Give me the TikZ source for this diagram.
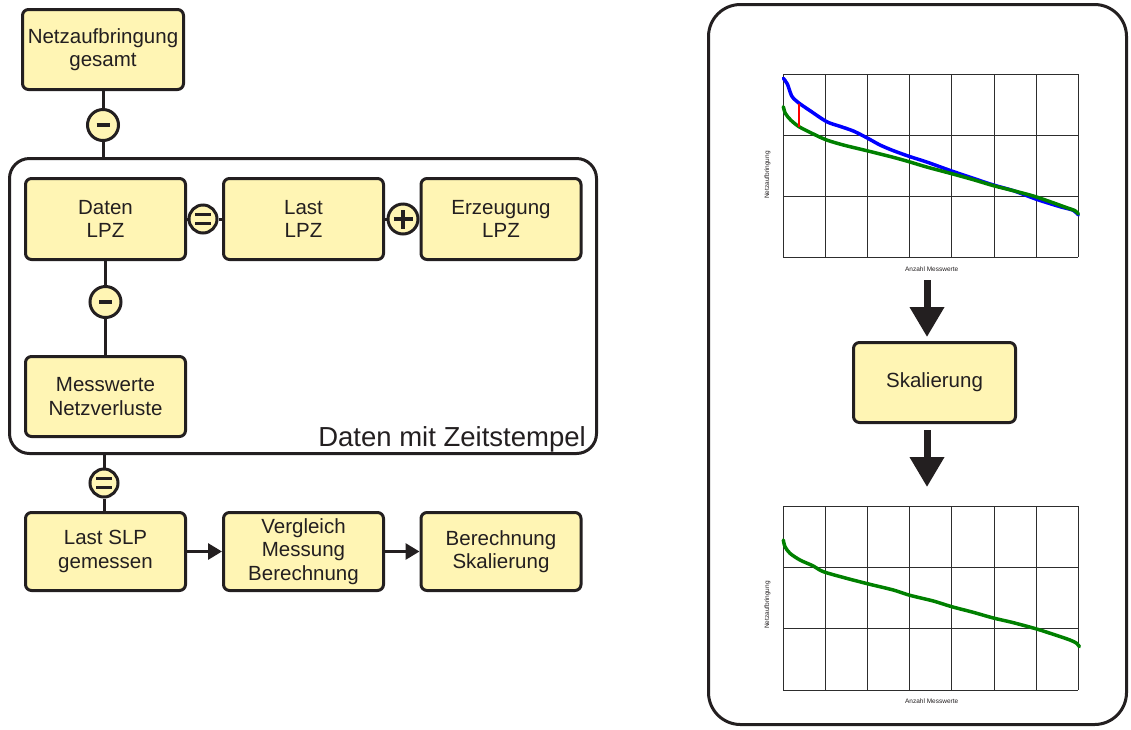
\documentclass[tikz,border=0pt]{standalone}
\usepackage{fontspec}
\setmainfont{Liberation Sans}
\usetikzlibrary{arrows.meta}
\definecolor{boxfill}{RGB}{255,245,180}
\definecolor{linec}{RGB}{35,31,32}
\definecolor{plotgreen}{RGB}{0,128,0}
\definecolor{plotblue}{RGB}{0,0,255}
\definecolor{gridc}{RGB}{45,45,45}
\begin{document}
\begin{tikzpicture}[x=1pt,y=-1pt,
  box/.style={draw=linec, fill=boxfill, line width=3pt, rounded corners=6pt, align=center, text=linec,
    font=\fontsize{20.5}{23.5}\selectfont, inner sep=0pt, minimum width=160pt, minimum height=80pt},
  op/.style={circle, draw=linec, fill=boxfill, line width=3pt, inner sep=0pt, minimum size=#1},
  conn/.style={draw=linec, line width=3pt},
  sym/.style={draw=linec, line width=3.5pt},
  smallarrow/.style={conn, -{Triangle[length=14pt,width=16pt]}},
  bigarrow/.style={draw=linec, line width=7pt, -{Triangle[length=30pt,width=33pt]}},
  gridline/.style={draw=gridc, line width=0.9pt},
  axlabel/.style={font=\fontsize{6.5}{7}\selectfont, text=linec, inner sep=0pt},
  curve/.style={line width=3.5pt, line cap=round, line join=round},
]
\useasboundingbox (0,0) rectangle (1131,729);

% ---------- left part ----------
\node[box, minimum width=161pt, minimum height=80pt] (gesamt) at (103,49.5) {Netzaufbringung\\gesamt};
\node[draw=linec, line width=3pt, rounded corners=20pt, minimum width=587pt, minimum height=295pt, inner sep=0pt] (cont) at (303,306) {};
\node[anchor=base east, font=\fontsize{27.5}{30}\selectfont, text=linec, inner sep=0pt] (zeit) at (586,446) {Daten mit Zeitstempel};

\node[box, minimum height=81pt] (daten) at (105.5,219) {Daten\\LPZ};
\node[box, minimum height=81pt] (last) at (303.5,219) {Last\\LPZ};
\node[box, minimum height=81pt] (erz) at (501,219) {Erzeugung\\LPZ};
\node[box] (mess) at (105.5,396.5) {Messwerte\\Netzverluste};

\node[box, minimum height=78pt] (slp) at (105.5,551.5) {Last SLP\\gemessen};
\node[box, minimum height=78pt] (verg) at (303.5,551.5) {Vergleich\\Messung\\Berechnung};
\node[box, minimum height=78pt] (ber) at (501,551.5) {Berechnung\\Skalierung};

% operator circles
\node[op=31pt] (m1) at (103,125) {};
\node[op=28pt] (eq1) at (203,219) {};
\node[op=30pt] (pl1) at (403,219) {};
\node[op=31pt] (m2) at (105.5,302) {};
\node[op=28pt] (eq2) at (104,483) {};

% connectors
\draw[conn] (gesamt) -- (m1);
\draw[conn] (m1) -- (m1 |- cont.north);
\draw[conn] (daten) -- (m2);
\draw[conn] (m2) -- (mess);
\draw[conn] (daten) -- (eq1);
\draw[conn] (eq1) -- (last);
\draw[conn] (last) -- (pl1);
\draw[conn] (pl1) -- (erz);
\draw[conn] (eq2 |- cont.south) -- (eq2);
\draw[conn] (eq2) -- (eq2 |- slp.north);
\draw[smallarrow] (slp) -- (verg);
\draw[smallarrow] (verg) -- (ber);

% symbols
\draw[line width=4pt, draw=linec] ([xshift=-6.5pt]m1.center) -- ([xshift=6.5pt]m1.center);
\draw[line width=4pt, draw=linec] ([xshift=-6.5pt]m2.center) -- ([xshift=6.5pt]m2.center);
\foreach \n in {eq1,eq2}{
  \draw[line width=3pt, draw=linec] ([xshift=-8pt,yshift=4.5pt]\n.center) -- ([xshift=8pt,yshift=4.5pt]\n.center);
  \draw[line width=3pt, draw=linec] ([xshift=-8pt,yshift=-4.5pt]\n.center) -- ([xshift=8pt,yshift=-4.5pt]\n.center);
}
\draw[sym] ([xshift=-9.5pt]pl1.center) -- ([xshift=9.5pt]pl1.center);
\draw[sym] ([yshift=-9.5pt]pl1.center) -- ([yshift=9.5pt]pl1.center);

% ---------- right part ----------
\node[draw=linec, line width=3pt, rounded corners=32pt, minimum width=418pt, minimum height=720pt, inner sep=0pt] (panel) at (917.5,364.5) {};

% chart 1
\begin{scope}[shift={(760,60)}, x=0.33333pt, y=-0.33333pt]
  \foreach \gx in {70,196.43,322.86,449.29,575.71,702.14,828.57,955}{
    \draw[gridline] (\gx,42) -- (\gx,592);
  }
  \foreach \gy in {42,225.33,408.67,592}{
    \draw[gridline] (70,\gy) -- (955,\gy);
  }
  \node[axlabel, rotate=90] (yl1) at (22,345) {Netzaufbringung};
  \node[axlabel] (xl1) at (515,628) {Anzahl Messwerte};
  \draw[curve, plotblue] plot[smooth, tension=0.5] coordinates {(70,55) (82,72) (95,108) (108,122) (122,133) (150,152) (200,185) (240,199) (280,213) (320,233) (360,255) (400,272) (450,290) (500,306) (575,333) (640,355) (700,375) (760,392) (830,418) (900,440) (940,451) (955,465)};
  \draw[curve, plotgreen] plot[smooth, tension=0.5] coordinates {(70,140) (76,160) (92,180) (117,200) (160,222) (200,240) (250,255) (320,272) (400,292) (450,306) (500,321) (575,341) (640,359) (700,377) (760,392) (820,408) (870,425) (920,443) (945,452) (955,462)};
  \draw[red, line width=1.2pt] (117,134) -- (117,198);
  \fill[red] (117,134) circle (1.4pt) (117,198) circle (1.4pt);
\end{scope}

% chart 2
\begin{scope}[shift={(760,490)}, x=0.33333pt, y=-0.33333pt]
  \foreach \gx in {70,196.43,322.86,449.29,575.71,702.14,828.57,955}{
    \draw[gridline] (\gx,48) -- (\gx,600);
  }
  \foreach \gy in {48,232,416,600}{
    \draw[gridline] (70,\gy) -- (955,\gy);
  }
  \node[axlabel, rotate=90] (yl2) at (22,345) {Netzaufbringung};
  \node[axlabel] (xl2) at (515,632) {Anzahl Messwerte};
  \draw[curve, plotgreen] plot[smooth, tension=0.5] coordinates {(70,150) (75,170) (90,190) (120,210) (160,228) (190,245) (260,265) (330,283) (400,300) (450,316) (520,333) (575,350) (640,367) (700,384) (760,398) (830,417) (880,433) (930,450) (950,460) (958,470)};
\end{scope}

\node[box, minimum width=162pt, minimum height=80pt] (skal) at (934.5,382.5) {Skalierung};
\coordinate (a1s) at (927,280);
\coordinate (a1e) at (927,337);
\coordinate (a2s) at (927,430);
\coordinate (a2e) at (927,487);
\draw[bigarrow] (a1s) -- (a1e);
\draw[bigarrow] (a2s) -- (a2e);
\end{tikzpicture}
\end{document}
